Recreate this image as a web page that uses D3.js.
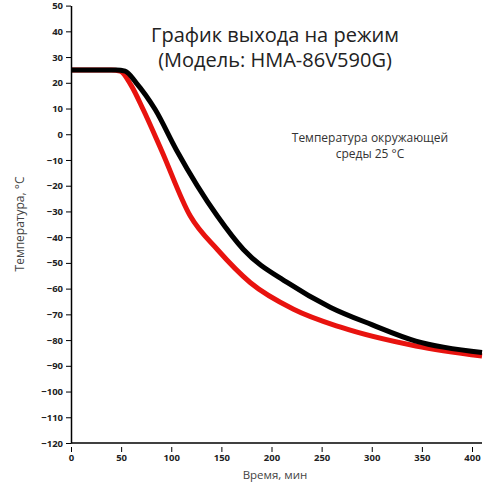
<!DOCTYPE html>
<html><head><meta charset="utf-8">
<script src="https://cdn.jsdelivr.net/npm/d3@7"></script>
<style>body{margin:0;background:#fff}text{font-family:"Open Sans",sans-serif}</style>
</head><body><svg id="c" width="500" height="491"></svg>
<script>
// chart data
const timeBlack = [0, 45, 54, 65, 84, 105, 146, 172, 216, 259, 300, 344, 410];
const tempBlack = [25, 25, 24.5, 20, 9.6, -6, -31.8, -44.8, -57.7, -67.3, -74, -80.4, -84.8];
const timeRed = [0, 40, 49, 60, 72, 90, 119, 146, 179, 222, 269, 344, 410];
const tempRed = [25, 25, 24.5, 19, 9.6, -6, -31.8, -44.8, -57.7, -68, -75, -82.3, -86.2];
const xTicks = [0, 50, 100, 150, 200, 250, 300, 350, 400];
const yTicks = d3.range(-120, 51, 10);

const svg = d3.select("#c");
const x = d3.scaleLinear().domain([0, 400]).range([71, 472]);
const y = d3.scaleLinear().domain([-120, 50]).range([443, 5.6]);

const line = d3.line().x(d => x(d[0])).y(d => y(d[1])).curve(d3.curveMonotoneX);
svg.append("path").datum(d3.zip(timeRed, tempRed)).attr("d", line)
  .attr("fill", "none").attr("stroke", "#e8130f").attr("stroke-width", 5);
svg.append("path").datum(d3.zip(timeBlack, tempBlack)).attr("d", line)
  .attr("fill", "none").attr("stroke", "#000").attr("stroke-width", 5);

// axes
const xAxis = svg.append("g").attr("transform", `translate(0,${y(-120)})`)
  .call(d3.axisBottom(x).tickValues(xTicks).tickSize(6).tickSizeOuter(0));
xAxis.select(".domain").attr("d", `M${x(0)},0H482`);
const yAxis = svg.append("g").attr("transform", `translate(${x(0)},0)`)
  .call(d3.axisLeft(y).tickValues(yTicks).tickSize(5).tickSizeOuter(0));
[xAxis, yAxis].forEach(a => {
  a.selectAll("text").attr("font-family", "DejaVu Sans").attr("font-size", 9.5)
    .attr("font-weight", "bold").attr("fill", "#222");
  a.select(".domain").attr("stroke-width", 1.5);
});
xAxis.selectAll(".tick line").attr("y1", 4).attr("y2", 9);
xAxis.selectAll(".tick text").attr("y", 11);

svg.append("text").attr("x", 275).attr("y", 479).attr("text-anchor", "middle")
  .attr("font-size", 11.5).attr("fill", "#444").text("Время, мин");
svg.append("text").attr("transform", "translate(24,224) rotate(-90)").attr("text-anchor", "middle")
  .attr("font-size", 12).attr("fill", "#444").text("Температура, °C");

svg.append("text").attr("x", 275).attr("y", 42).attr("text-anchor", "middle")
  .attr("font-size", 20).attr("fill", "#222").text("График выхода на режим");
svg.append("text").attr("x", 275).attr("y", 67).attr("text-anchor", "middle")
  .attr("font-size", 20).attr("fill", "#222").text("(Модель: HMA-86V590G)");

svg.append("text").attr("x", 370).attr("y", 142).attr("text-anchor", "middle")
  .attr("font-size", 12).attr("fill", "#333").text("Температура окружающей");
svg.append("text").attr("x", 370).attr("y", 158).attr("text-anchor", "middle")
  .attr("font-size", 12).attr("fill", "#333").text("среды 25 °C");
</script></body></html>
